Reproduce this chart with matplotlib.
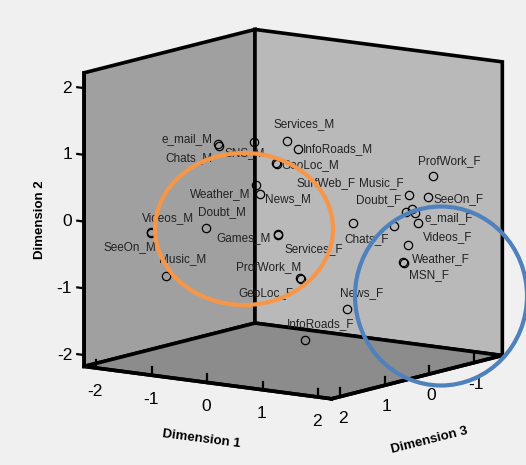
import matplotlib
matplotlib.use("Agg")
import matplotlib.pyplot as plt
from matplotlib.patches import Ellipse
from matplotlib.ticker import NullFormatter
from mpl_toolkits.mplot3d import proj3d

# ---- data: category points (Dimension 1, Dimension 2, Dimension 3)
labels = ["e_mail_M", "Chats_M", "SNS_M", "Services_M", "InfoRoads_M", "GeoLoc_M",
          "Weather_M", "News_M", "Videos_M", "SeeOn_M", "Doubt_M", "Games_M",
          "Music_M", "ProfWork_M", "Services_F", "GeoLoc_F", "SurfWeb_F", "Chats_F",
          "Doubt_F", "Music_F", "SeeOn_F", "ProfWork_F", "e_mail_F", "Videos_F",
          "Weather_F", "MSN_F", "News_F", "InfoRoads_F", "", "", ""]
dim1 = [-0.93, -0.83, -0.61, -0.17, 0.11, -0.13, -0.40, -0.26, -1.97, -1.89, -1.07, -0.01,
        -1.55, 0.47, -0.08, 0.40, -0.19, 1.45, 1.49, 1.48, 1.97, 1.82, 1.87, 1.53,
        1.37, 1.47, 0.92, 0.40, 0.95, 1.52, 1.74]
dim2 = [1.07, 1.07, 1.07, 1.10, 1.02, 0.82, 0.48, 0.38, -0.33, -0.32, -0.19, -0.22,
        -0.91, -0.81, -0.25, -0.85, 0.78, -0.07, 0.11, 0.35, 0.40, 0.65, 0.02, -0.38,
        -0.67, -0.66, -1.30, -1.78, -0.03, 0.14, 0.14]
dim3 = [0.8, 0.9, 0.4, 0.2, 0.3, 0.5, 0.6, 0.7, 1.0, 1.1, 0.9, 0.6,
        1.2, 0.7, 0.5, 0.6, 0.4, -0.2, -0.4, -0.5, -0.3, -0.6, -0.2, -0.4,
        -0.5, -0.4, 0.2, 0.5, 0.1, -0.5, -0.3]
dim1_ticks = [-2, -1, 0, 1, 2]
dim2_ticks = [-2, -1, 0, 1, 2]
dim3_ticks = [-1, 0, 1, 2]
dim1_lim = (-2.22, 2.24)
dim2_lim = (-2.17, 2.23)
dim3_lim = (2.2, -1.64)  # runs from the front corner towards the right

# label placement around markers, in pixels (right, up)
label_offsets = {
    "e_mail_M": (-31, 5), "Chats_M": (-30, -12), "SNS_M": (-9, -12),
    "Services_M": (17, 16), "InfoRoads_M": (40, 0), "GeoLoc_M": (35, -2),
    "Weather_M": (-36, -9), "News_M": (28, -6), "Videos_M": (17, 14),
    "SeeOn_M": (-22, -14), "Doubt_M": (16, 16), "Games_M": (-34, -4),
    "Music_M": (17, 17), "ProfWork_M": (-31, 11), "Services_F": (35, -14),
    "GeoLoc_F": (-35, -14), "SurfWeb_F": (49, -19), "Chats_F": (-28, -13),
    "Doubt_F": (-27, 12), "Music_F": (-28, 12), "SeeOn_F": (31, -2),
    "ProfWork_F": (17, 15), "e_mail_F": (31, 5), "Videos_F": (40, 8),
    "Weather_F": (38, 3), "MSN_F": (25, -12), "News_F": (14, 16),
    "InfoRoads_F": (16, 16),
}

plt.rcParams["font.family"] = ["Liberation Sans", "DejaVu Sans"]
plt.rcParams["axes.unicode_minus"] = False
plt.rcParams["axes.linewidth"] = 2.6
plt.rcParams["xtick.major.width"] = 1.6
plt.rcParams["ytick.major.width"] = 1.6

fig = plt.figure(figsize=(5.26, 4.65), dpi=100, facecolor="#f0f0f0")
ax = fig.add_axes([0.0456, 0.026, 1.0, 1.0], projection="3d", proj_type="ortho")
ax.set_facecolor("#f0f0f0")
ax.view_init(elev=10.5, azim=-54.3)
ax.set_box_aspect((1.02, 0.98, 1.0), zoom=1.08)

ax.set_xlim(*dim1_lim)
ax.set_ylim(*dim3_lim)
ax.set_zlim(*dim2_lim)
ax.grid(False)

for axis, col in [(ax.xaxis, "#a0a0a0"), (ax.yaxis, "#b9b9b9"), (ax.zaxis, "#8c8c8c")]:
    axis.set_pane_color(col, alpha=1.0)
    axis.pane.set_edgecolor("black")
    axis.pane.set_linewidth(2.6)
    axis.pane.set_closed(True)
    axis.line.set_color("black")
    axis.line.set_linewidth(2.6)
    axis.set_major_formatter(NullFormatter())

ax.set_xticks(dim1_ticks)
ax.set_yticks(dim3_ticks)
ax.set_zticks(dim2_ticks)

# floor axes: short ticks hanging straight down
for axis in (ax.xaxis, ax.yaxis):
    axis._get_tickdir = lambda position: 2
    axis._axinfo["tick"]["inward_factor"] = 0.35
    axis._axinfo["tick"]["outward_factor"] = 0.0
ax.zaxis._axinfo["tick"]["inward_factor"] = 0.0
ax.zaxis._axinfo["tick"]["outward_factor"] = 0.35
ax.zaxis.set_ticks_position("upper")

ax.plot(dim1, dim3, dim2, ls="none", marker="o", ms=6, mfc="none", mec="black", mew=0.9)

# labels: project once the view is fixed, then annotate in 2D
fig.canvas.draw()
px, py, _ = proj3d.proj_transform(dim1, dim3, dim2, ax.M)
for lab, x, y in zip(labels, px, py):
    if not lab:
        continue
    ax.annotate(lab, (x, y), xytext=label_offsets[lab], textcoords="offset pixels",
                ha="center", va="center", fontsize=8.5, color="#222222")

# tick numbers
for t in dim1_ticks:
    tx, ty, _ = proj3d.proj_transform(t, dim3_lim[0], dim2_lim[0], ax.M)
    ax.annotate(str(t), (tx, ty), xytext=(-1, -24), textcoords="offset pixels",
                ha="center", va="center", fontsize=12.5)
for t in dim3_ticks:
    tx, ty, _ = proj3d.proj_transform(dim1_lim[1], t, dim2_lim[0], ax.M)
    ax.annotate(str(t), (tx, ty), xytext=(2, -21.5), textcoords="offset pixels",
                ha="center", va="center", fontsize=12.5)
for t in dim2_ticks:
    tx, ty, _ = proj3d.proj_transform(dim1_lim[0], dim3_lim[0], t, ax.M)
    ax.annotate(str(t), (tx, ty), xytext=(-12, 0), textcoords="offset pixels",
                ha="right", va="center", fontsize=12.5)

mid1 = sum(dim1_lim) / 2
mid2 = sum(dim2_lim) / 2
mid3 = sum(dim3_lim) / 2
titles = [
    ("Dimension 1", (mid1, dim3_lim[0], dim2_lim[0]), (-7, -56), -7.4),
    ("Dimension 3", (dim1_lim[1], mid3, dim2_lim[0]), (12, -63), 14.2),
    ("Dimension 2", (dim1_lim[0], dim3_lim[0], mid2), (-44, 0), 90),
]
for text, (x, y, z), off, rot in titles:
    tx, ty, _ = proj3d.proj_transform(x, y, z, ax.M)
    ax.annotate(text, (tx, ty), xytext=off, textcoords="offset pixels", rotation=rot,
                ha="center", va="center", fontsize=9.5, fontweight="bold")

# hand-drawn highlight ellipses on top (pixel space)
over = fig.add_axes([0, 0, 1, 1])
over.set_xlim(0, 526)
over.set_ylim(465, 0)
over.axis("off")
over.patch.set_visible(False)
over.add_patch(Ellipse((244, 229), 178, 152, fill=False, ec="#f79646", lw=3))
over.add_patch(Ellipse((441, 296), 172, 179, fill=False, ec="#4f81bd", lw=3))

fig.savefig("out.png", dpi=100, facecolor=fig.get_facecolor())
